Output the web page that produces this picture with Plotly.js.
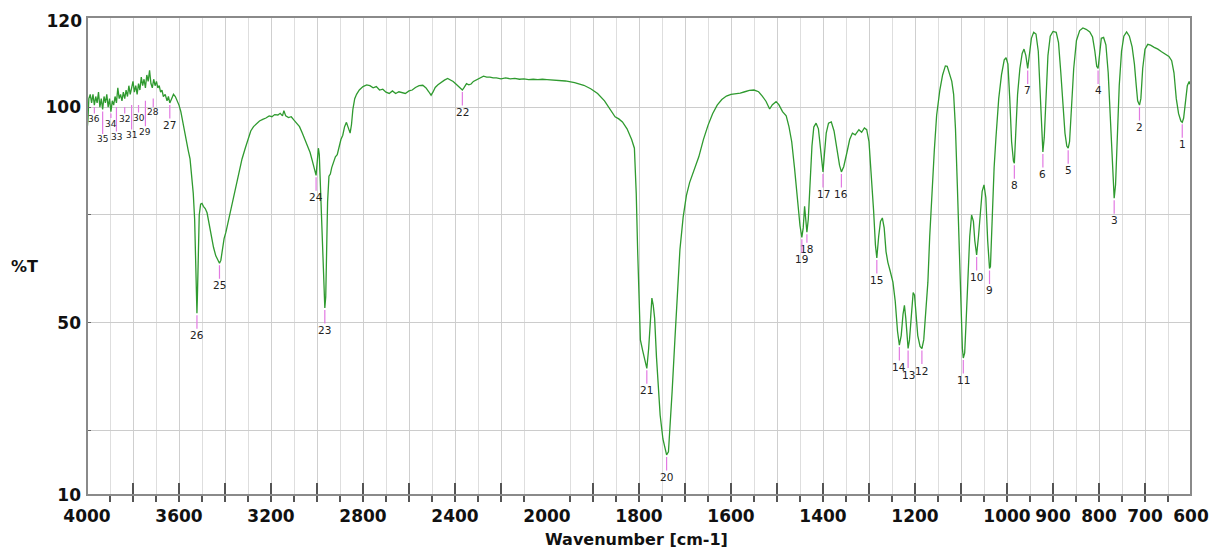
<!DOCTYPE html>
<html>
<head>
<meta charset="utf-8">
<script src="https://cdn.plot.ly/plotly-3.0.1.min.js"></script>
<style>html,body{margin:0;padding:0;background:#fff;}#chart{width:1211px;height:552px;}</style>
</head>
<body>
<div id="chart"></div>
<script>
// Spectrum, part A: 4000 -> 2000 cm-1
const wnA = [4000,3996,3992,3986,3980,3974,3968,3962,3956,3950,3944,3938,3932,3926,3920,3914,3908,3902,3896,3890,3884,3878,3872,3866,3860,3854,3848,3842,3836,3830,3824,3818,3812,3806,3800,3794,3788,3782,3776,3770,3764,3758,3752,3746,3740,3734,3728,3722,3716,3710,3704,3698,3692,3686,3680,3674,3668,3660,3652,3646,3640,3632,3624,3616,3608,3600,3592,3584,3576,3568,3560,3552,3544,3538,3532,3528,3524,3522,3520,3516,3512,3506,3500,3494,3486,3478,3470,3460,3450,3440,3430,3424,3418,3412,3404,3396,3388,3376,3364,3352,3340,3326,3312,3300,3288,3276,3264,3250,3236,3222,3208,3196,3184,3170,3160,3150,3144,3136,3124,3112,3100,3088,3076,3064,3052,3040,3030,3020,3010,3004,2998,2994,2990,2984,2978,2972,2966,2962,2958,2954,2948,2942,2936,2928,2920,2912,2904,2896,2888,2880,2872,2864,2856,2850,2844,2836,2828,2816,2800,2784,2770,2756,2742,2728,2714,2700,2686,2672,2658,2644,2630,2616,2600,2586,2572,2556,2540,2526,2514,2504,2496,2486,2474,2460,2446,2432,2420,2408,2396,2384,2376,2368,2360,2350,2340,2330,2320,2310,2300,2290,2276,2262,2248,2234,2220,2200,2180,2160,2140,2120,2100,2080,2060,2040,2020,2000];
const tA = [94.5,97,102,103,101,103,100.5,102.5,101,103.5,100,102,99.5,102.5,101,103,100,102,99,101.5,100.5,102.5,101,104.5,102,103,101.5,103.5,102,104,102.5,105,103,104.5,106,103.5,105,103,105.5,104,107,105,106.5,104.5,107.5,106,108.6,105.5,104.5,106.5,105,106,104.5,105,103.5,104,102.5,103,101.5,102.5,101,102,103,102.5,101.5,100.5,99,96.5,94,92,90,88,84,80,74,65,55,52.2,56,68,75,77.5,77.7,77,76.5,75.5,73,70,67.5,65.5,64.3,63.8,64.5,67,69.5,71,73,76,79,82,85,88,90.5,92.5,94.5,95.5,96.2,96.8,97.2,97.5,98,97.8,98.3,98.2,98.6,98,99.2,98,97.6,97.8,97,96.3,95.5,94,92.5,91,89.5,87.5,85.5,84.2,88,90.5,89,80,68,58,53.4,56,66,78,84,84.5,86,87.5,88.5,89,91,92.5,93.5,95.5,96.5,95,94,96,99.5,102,103,104,104.8,105.2,105,104.5,104.8,104,104.2,103.5,103.2,103.8,103.2,103.6,103.4,103.2,103.8,104,104.6,105,105.1,104.5,103.6,102.8,103.5,104.6,105.2,105.8,106.3,106.7,106.4,106,105.4,104.8,104.3,104,104.6,105.5,105.2,105.4,106,106.3,106.6,106.9,107.2,107,107,106.8,106.8,106.6,106.8,106.6,106.7,106.5,106.6,106.4,106.5,106.4,106.5,106.4];

// Spectrum, part B: 2000 -> 600 cm-1
const wnB = [2000,1980,1960,1940,1920,1905,1890,1875,1862,1852,1844,1836,1826,1816,1810,1806,1803,1800,1797,1792,1787,1783,1779,1775,1772,1769,1766,1762,1758,1754,1748,1743,1740,1736,1732,1728,1722,1716,1711,1704,1697,1690,1680,1670,1660,1650,1640,1630,1620,1610,1600,1590,1580,1570,1560,1550,1540,1532,1524,1516,1510,1502,1496,1488,1480,1474,1468,1462,1456,1450,1446,1443,1440,1437,1435,1432,1428,1424,1420,1415,1410,1406,1402,1400,1397,1393,1388,1382,1376,1370,1364,1360,1355,1348,1342,1336,1330,1322,1316,1310,1305,1300,1295,1290,1286,1283,1279,1275,1271,1267,1263,1259,1254,1248,1243,1238,1234,1230,1226,1223,1220,1217,1215,1212,1208,1204,1201,1198,1194,1189,1185,1181,1176,1172,1168,1163,1158,1153,1146,1140,1134,1130,1125,1120,1116,1112,1108,1104,1100,1097,1095,1092,1089,1085,1081,1077,1073,1070,1066,1062,1058,1054,1050,1046,1042,1038,1036,1032,1028,1024,1018,1012,1006,1002,998,994,990,986,984,981,977,972,967,963,959,955,951,947,942,937,932,928,924,922,919,915,911,906,900,893,888,883,878,874,870,867,864,860,855,849,842,835,828,820,814,809,805,802,799,795,790,785,780,776,772,769,767,764,760,756,751,746,740,734,728,723,719,716,712,709,705,700,694,688,680,672,664,656,648,642,637,632,627,622,619,616,612,608,604,600];
const tB = [106.4,106.3,106.1,105.7,105.1,104.3,103.2,101.5,99.5,97.8,97.3,96.6,95,92.5,90.5,80,67,55,46,43.5,41.5,39.4,44,52,55.7,54,51,42,34,28.5,23,20.5,19.3,20,26,34,46,58,67,74.5,79.5,82.5,85.5,88.5,92.5,95.8,98.5,100.5,101.8,102.6,103,103.1,103.3,103.6,103.9,104,103.6,102.6,101.4,99.6,100.6,101.3,100.6,99,98,95.5,92,86,79,72.5,69.8,72,77,74,71,74,82,91,95.4,96.3,95,91,85.5,85,89,94,96.3,96.6,94.5,90.5,86.5,85,86.2,89.5,92.5,94,93.6,94.8,94.2,95.2,94.8,92,85,76,68,65,70,73.5,74.3,72,66.5,64,62,59.4,55,48,44.8,47,52,54,51,46,44,46,52,57,56.4,53,47,44.5,44,46,53,59.4,70,81,90,98.1,104,107.5,109.6,109.5,108,106,103,95,82,68,52,44,41.8,43,50,61,70,75,73.5,69,65.7,70,76,80.5,82,79,69,62.6,63,75,86,93,102,107.5,111,111.5,110,102,92,87.5,87,94,103,109,112.5,113.5,112,109,112,116,117.4,117,113,103,92,89.6,93,103,112,116.5,117.6,117.4,115,108,100,94,91,90.5,92,100,109,115.5,117.8,118.4,118.1,117.5,116.3,113,109.5,109,112,116,116.2,114.5,108,98,88,80,78.9,82,93,105,113,116.5,117.5,116.5,114,110,105,101.5,100.5,102,109,113.5,114.6,114.4,113.9,113.5,112.9,112.4,111.8,110.8,108,102,98.5,96.8,96.5,97.5,102,105,106,105];

// Peak picks
const peakNo = [1,2,3,4,5,6,7,8,9,10,11,12,13,14,15,16,17,18,19,20,21,22,23,24,25,26,27,28,29,30,31,32,33,34,35,36];
const peakWn = [619,712,767,802,867,922,955,984,1038,1066,1095,1185,1215,1234,1283,1360,1400,1435,1446,1740,1783,2368,2966,3004,3424,3522,3640,3712,3746,3776,3806,3836,3872,3896,3932,3968];
const peakT  = [96.5,100.5,78.9,109,90.5,89.6,109,87,62.6,65.7,41.8,44,44,44.8,65,85,85,71,69.8,19.3,39.4,104,53.4,84.2,63.8,52.2,101,102.5,102,101,101,100.5,100.5,99,99.5,100.5];
const peakOff = [22,22,22,22,22,22,22,22,22,22,22,22,26,22,22,22,22,17,22,22,22,22,22,22,22,22,22,16,33,15,32,14,32,12,30,14];

// Axis ticks
const xTicksA = [4000,3800,3600,3400,3200,3000,2800,2600,2400,2200,2000];
const xLabelsA = ['4000','','3600','','3200','','2800','','2400','','2000'];
const xTicksB = [2000,1900,1800,1700,1600,1500,1400,1300,1200,1100,1000,900,800,700,600];
const xLabelsB = ['','','1800','','1600','','1400','','1200','','1000','900','800','700','600'];
const yTicks = [10,25,50,75,100];
const yLabels = ['10','','50','','100'];
const yTopTick = [120];

const lineColor = '#2f9a2f';
const tickFont = {family: 'DejaVu Sans', size: 17, color: '#111', weight: 'bold'};
const split = 460 / 1104;
const yRange = [10, 120.95];

const traces = [
  {x: wnA, y: tA, xaxis: 'x', yaxis: 'y', type: 'scatter', mode: 'lines',
   line: {color: lineColor, width: 1.3}, hoverinfo: 'skip', showlegend: false},
  {x: wnB, y: tB, xaxis: 'x2', yaxis: 'y', type: 'scatter', mode: 'lines',
   line: {color: lineColor, width: 1.3}, hoverinfo: 'skip', showlegend: false},
  // empty trace that only registers the second y axis (carries the "120" label)
  {x: [], y: [], xaxis: 'x', yaxis: 'y2', type: 'scatter', mode: 'lines',
   hoverinfo: 'skip', showlegend: false}
];

const annotations = peakNo.map((n, i) => {
  const onA = peakWn[i] > 2000;
  const crowded = n >= 28;
  return {
    x: peakWn[i], y: peakT[i], xref: onA ? 'x' : 'x2', yref: 'y',
    text: String(n), showarrow: true, arrowhead: 0, arrowwidth: 1.2,
    arrowcolor: '#e27ae2', ax: 0, ay: peakOff[i], standoff: 2,
    font: {family: 'DejaVu Sans', size: crowded ? 9 : 10.5, color: '#222'}, borderpad: 0
  };
});
annotations.push({
  text: '%T', xref: 'paper', yref: 'paper', x: -0.057, y: 0.477,
  xanchor: 'center', yanchor: 'middle', showarrow: false,
  font: {family: 'DejaVu Sans', size: 16, color: '#111', weight: 'bold'}
});
annotations.push({
  text: 'Wavenumber [cm-1]', xref: 'paper', yref: 'paper', x: 0.498, y: -0.094,
  xanchor: 'center', yanchor: 'middle', showarrow: false,
  font: {family: 'DejaVu Sans', size: 16, color: '#111', weight: 'bold'}
});

const xCommon = {
  anchor: 'y', showline: false, zeroline: false, ticks: 'inside', ticklen: 12,
  tickcolor: '#555', tickwidth: 1.2, showgrid: true, gridcolor: '#cfcfcf', gridwidth: 1,
  tickfont: tickFont, ticklabelstandoff: 9, tickangle: 0
};

const layout = {
  width: 1211, height: 552,
  margin: {l: 87, r: 20, t: 17, b: 57},
  paper_bgcolor: '#ffffff', plot_bgcolor: '#ffffff',
  showlegend: false,
  xaxis: Object.assign({}, xCommon, {
    domain: [0, split], range: [4000, 2000], tickmode: 'array',
    tickvals: xTicksA, ticktext: xLabelsA,
    minor: {dtick: 100, tick0: 0, ticklen: 6, tickcolor: '#555', showgrid: true, gridcolor: '#dedede'}
  }),
  xaxis2: Object.assign({}, xCommon, {
    domain: [split, 1], range: [2000, 600], tickmode: 'array',
    tickvals: xTicksB, ticktext: xLabelsB,
    minor: {dtick: 50, tick0: 0, ticklen: 6, tickcolor: '#555', showgrid: true, gridcolor: '#dedede'}
  }),
  yaxis: {
    domain: [0, 1], range: yRange, tickmode: 'array', tickvals: yTicks, ticktext: yLabels,
    showline: false, zeroline: false, ticks: 'inside', ticklen: 4, tickcolor: '#666',
    showgrid: true, gridcolor: '#cccccc', gridwidth: 1,
    tickfont: tickFont, ticklabelstandoff: 5
  },
  yaxis2: {
    overlaying: 'y', anchor: 'free', position: 0, side: 'left', range: yRange,
    tickmode: 'array', tickvals: yTopTick, ticktext: ['120'],
    showline: false, zeroline: false, showgrid: false, ticks: '',
    tickfont: tickFont, ticklabelstandoff: 5
  },
  shapes: [{
    type: 'rect', xref: 'paper', yref: 'paper', x0: 0, x1: 1, y0: 0, y1: 1,
    line: {color: '#8a8a8a', width: 2}, layer: 'above'
  }],
  annotations: annotations
};

Plotly.newPlot('chart', traces, layout, {displayModeBar: false, staticPlot: true});
</script>
</body>
</html>
